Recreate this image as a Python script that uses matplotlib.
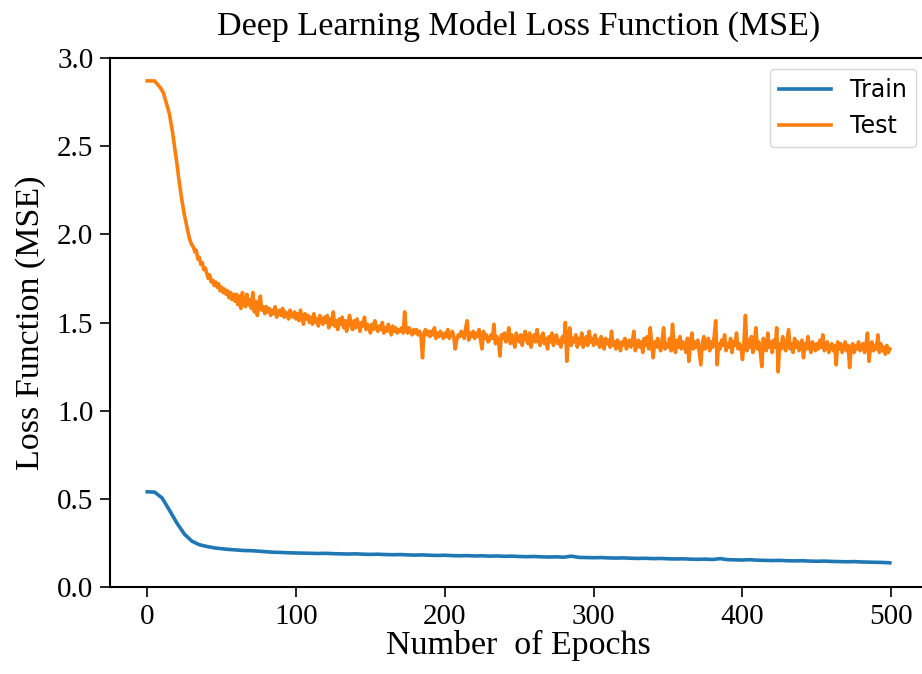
import numpy as np
import matplotlib
matplotlib.use("Agg")
import matplotlib.pyplot as plt

# loss values
test_loss = [
    2.87, 2.87, 2.87, 2.87, 2.87, 2.87, 2.86, 2.85, 2.84, 2.83,
    2.815, 2.80, 2.77, 2.74, 2.71, 2.68, 2.63, 2.58, 2.52, 2.46,
    2.40, 2.33, 2.27, 2.21, 2.16, 2.11, 2.07, 2.03, 1.99, 1.96,
    1.94, 1.93, 1.90, 1.91, 1.86, 1.87, 1.83, 1.84, 1.80, 1.81,
    1.78, 1.75, 1.77, 1.73, 1.74, 1.71, 1.73, 1.70, 1.72, 1.68,
    1.70, 1.67, 1.69, 1.66, 1.68, 1.64, 1.67, 1.63, 1.66, 1.62,
    1.66, 1.60, 1.65, 1.58, 1.67, 1.61, 1.59, 1.66, 1.60, 1.63,
    1.58, 1.67, 1.56, 1.62, 1.54, 1.60, 1.65, 1.57, 1.59, 1.55,
    1.59, 1.56, 1.58, 1.54, 1.57, 1.55, 1.59, 1.53, 1.56, 1.57,
    1.54, 1.58, 1.53, 1.56, 1.55, 1.52, 1.57, 1.54, 1.53, 1.56,
    1.52, 1.55, 1.51, 1.57, 1.53, 1.49, 1.55, 1.52, 1.54, 1.50,
    1.53, 1.49, 1.55, 1.50, 1.52, 1.48, 1.54, 1.51, 1.49, 1.53,
    1.50, 1.54, 1.47, 1.52, 1.49, 1.56, 1.48, 1.51, 1.46, 1.52,
    1.49, 1.53, 1.47, 1.51, 1.45, 1.50, 1.54, 1.48, 1.46, 1.51,
    1.47, 1.52, 1.49, 1.45, 1.50, 1.48, 1.53, 1.46, 1.49, 1.47,
    1.44, 1.49, 1.46, 1.51, 1.47, 1.45, 1.48, 1.46, 1.50, 1.44,
    1.47, 1.45, 1.49, 1.46, 1.43, 1.48, 1.45, 1.47, 1.44, 1.46,
    1.45, 1.47, 1.44, 1.56, 1.46, 1.44, 1.47, 1.45, 1.43, 1.46,
    1.44, 1.46, 1.43, 1.45, 1.42, 1.30, 1.44, 1.46, 1.43, 1.45,
    1.42, 1.45, 1.43, 1.47, 1.41, 1.44, 1.42, 1.45, 1.43, 1.41,
    1.44, 1.42, 1.46, 1.41, 1.43, 1.45, 1.42, 1.35, 1.40, 1.43,
    1.42, 1.45, 1.43, 1.41, 1.47, 1.51, 1.40, 1.44, 1.42, 1.45,
    1.41, 1.44, 1.42, 1.46, 1.40, 1.35, 1.45, 1.41, 1.43, 1.39,
    1.40, 1.43, 1.41, 1.49, 1.38, 1.42, 1.40, 1.31, 1.43, 1.41,
    1.44, 1.39, 1.42, 1.47, 1.38, 1.43, 1.40, 1.36, 1.44, 1.41,
    1.39, 1.43, 1.37, 1.42, 1.45, 1.40, 1.38, 1.44, 1.36, 1.41,
    1.43, 1.39, 1.46, 1.40, 1.37, 1.42, 1.44, 1.38, 1.41, 1.35,
    1.42, 1.39, 1.44, 1.37, 1.41, 1.43, 1.38, 1.40, 1.36, 1.42,
    1.39, 1.50, 1.28, 1.42, 1.47, 1.37, 1.41, 1.39, 1.43, 1.36,
    1.41, 1.38, 1.44, 1.36, 1.40, 1.42, 1.37, 1.45, 1.39, 1.41,
    1.37, 1.43, 1.38, 1.40, 1.36, 1.42, 1.39, 1.35, 1.41, 1.38,
    1.40, 1.36, 1.45, 1.37, 1.39, 1.35, 1.40, 1.38, 1.34, 1.39,
    1.37, 1.41, 1.35, 1.38, 1.40, 1.36, 1.39, 1.45, 1.34, 1.38,
    1.40, 1.36, 1.39, 1.33, 1.41, 1.37, 1.42, 1.35, 1.47, 1.38,
    1.30, 1.39, 1.36, 1.41, 1.37, 1.34, 1.40, 1.47, 1.35, 1.38,
    1.36, 1.41, 1.34, 1.49, 1.37, 1.33, 1.40, 1.36, 1.42, 1.35,
    1.39, 1.37, 1.33, 1.41, 1.28, 1.38, 1.44, 1.35, 1.39, 1.36,
    1.40, 1.33, 1.26, 1.38, 1.42, 1.35, 1.37, 1.41, 1.34, 1.39,
    1.36, 1.42, 1.51, 1.26, 1.38, 1.35, 1.40, 1.37, 1.43, 1.34,
    1.38, 1.36, 1.41, 1.33, 1.39, 1.37, 1.44, 1.35, 1.38, 1.36,
    1.29, 1.39, 1.54, 1.34, 1.40, 1.36, 1.42, 1.33, 1.38, 1.47,
    1.35, 1.39, 1.33, 1.25, 1.41, 1.37, 1.34, 1.44, 1.36, 1.39,
    1.33, 1.40, 1.36, 1.47, 1.22, 1.38, 1.35, 1.42, 1.37, 1.34,
    1.40, 1.46, 1.35, 1.38, 1.33, 1.41, 1.36, 1.39, 1.34, 1.37,
    1.40, 1.30, 1.38, 1.35, 1.42, 1.36, 1.33, 1.39, 1.37, 1.34,
    1.38, 1.35, 1.40, 1.36, 1.43, 1.34, 1.37, 1.39, 1.33, 1.36,
    1.38, 1.34, 1.37, 1.26, 1.39, 1.35, 1.38, 1.33, 1.36, 1.39,
    1.34, 1.37, 1.245, 1.35, 1.38, 1.33, 1.37, 1.35, 1.39, 1.34,
    1.36, 1.38, 1.33, 1.37, 1.44, 1.28, 1.36, 1.39, 1.34, 1.37,
    1.35, 1.43, 1.33, 1.38, 1.34, 1.36, 1.32, 1.37, 1.33, 1.35,
]
test_epochs = np.arange(len(test_loss))

train_epochs = list(range(0, 500, 5)) + [499]
train_loss = [
    0.540, 0.538, 0.505, 0.435, 0.362, 0.300, 0.260, 0.240, 0.230, 0.222,
    0.217, 0.213, 0.210, 0.207, 0.206, 0.203, 0.200, 0.197, 0.196, 0.194,
    0.193, 0.192, 0.191, 0.190, 0.191, 0.189, 0.188, 0.187, 0.188, 0.186,
    0.185, 0.186, 0.184, 0.183, 0.184, 0.182, 0.181, 0.182, 0.180, 0.179,
    0.180, 0.178, 0.177, 0.178, 0.176, 0.177, 0.175, 0.176, 0.174, 0.175,
    0.173, 0.172, 0.173, 0.171, 0.170, 0.171, 0.169, 0.175, 0.168, 0.167,
    0.166, 0.167, 0.165, 0.164, 0.165, 0.163, 0.162, 0.163, 0.161, 0.162,
    0.160, 0.159, 0.160, 0.158, 0.157, 0.158, 0.156, 0.161, 0.155, 0.154,
    0.153, 0.155, 0.152, 0.151, 0.150, 0.151, 0.149, 0.148, 0.149, 0.147,
    0.146, 0.147, 0.145, 0.144, 0.143, 0.144, 0.142, 0.141, 0.140, 0.139,
    0.137,
]

serif = "Liberation Serif"

fig = plt.figure(figsize=(9.22, 6.74), dpi=100)
ax = fig.add_axes([110 / 922, 1 - 587 / 674, 817 / 922, 529 / 674])

ax.plot(train_epochs, train_loss, color="#1f77b4", lw=2.6, label="Train")
ax.plot(test_epochs, test_loss, color="#ff7f0e", lw=2.6, label="Test")

ax.set_ylim(0, 3.0)
ax.set_xlim(-25, 524)
ax.set_xticks([0, 100, 200, 300, 400, 500])
ax.set_yticks([0.0, 0.5, 1.0, 1.5, 2.0, 2.5, 3.0])
ax.set_yticklabels(["0.0", "0.5", "1.0", "1.5", "2.0", "2.5", "3.0"])

for lab in ax.get_xticklabels() + ax.get_yticklabels():
    lab.set_fontfamily(serif)
    lab.set_fontsize(21)
ax.tick_params(length=7, width=1.2, pad=5)
for sp in ax.spines.values():
    sp.set_linewidth(1.5)

ax.set_title("Deep Learning Model Loss Function (MSE)", family=serif, fontsize=24.5, pad=17)
ax.set_xlabel("Number  of Epochs", family=serif, fontsize=24.5, labelpad=0)
ax.set_ylabel("Loss Function (MSE)", family=serif, fontsize=24.5, labelpad=8)

ax.legend(loc="upper right", fontsize=17, handlelength=2.2, borderaxespad=0.45)

fig.savefig("out.png", dpi=100)
